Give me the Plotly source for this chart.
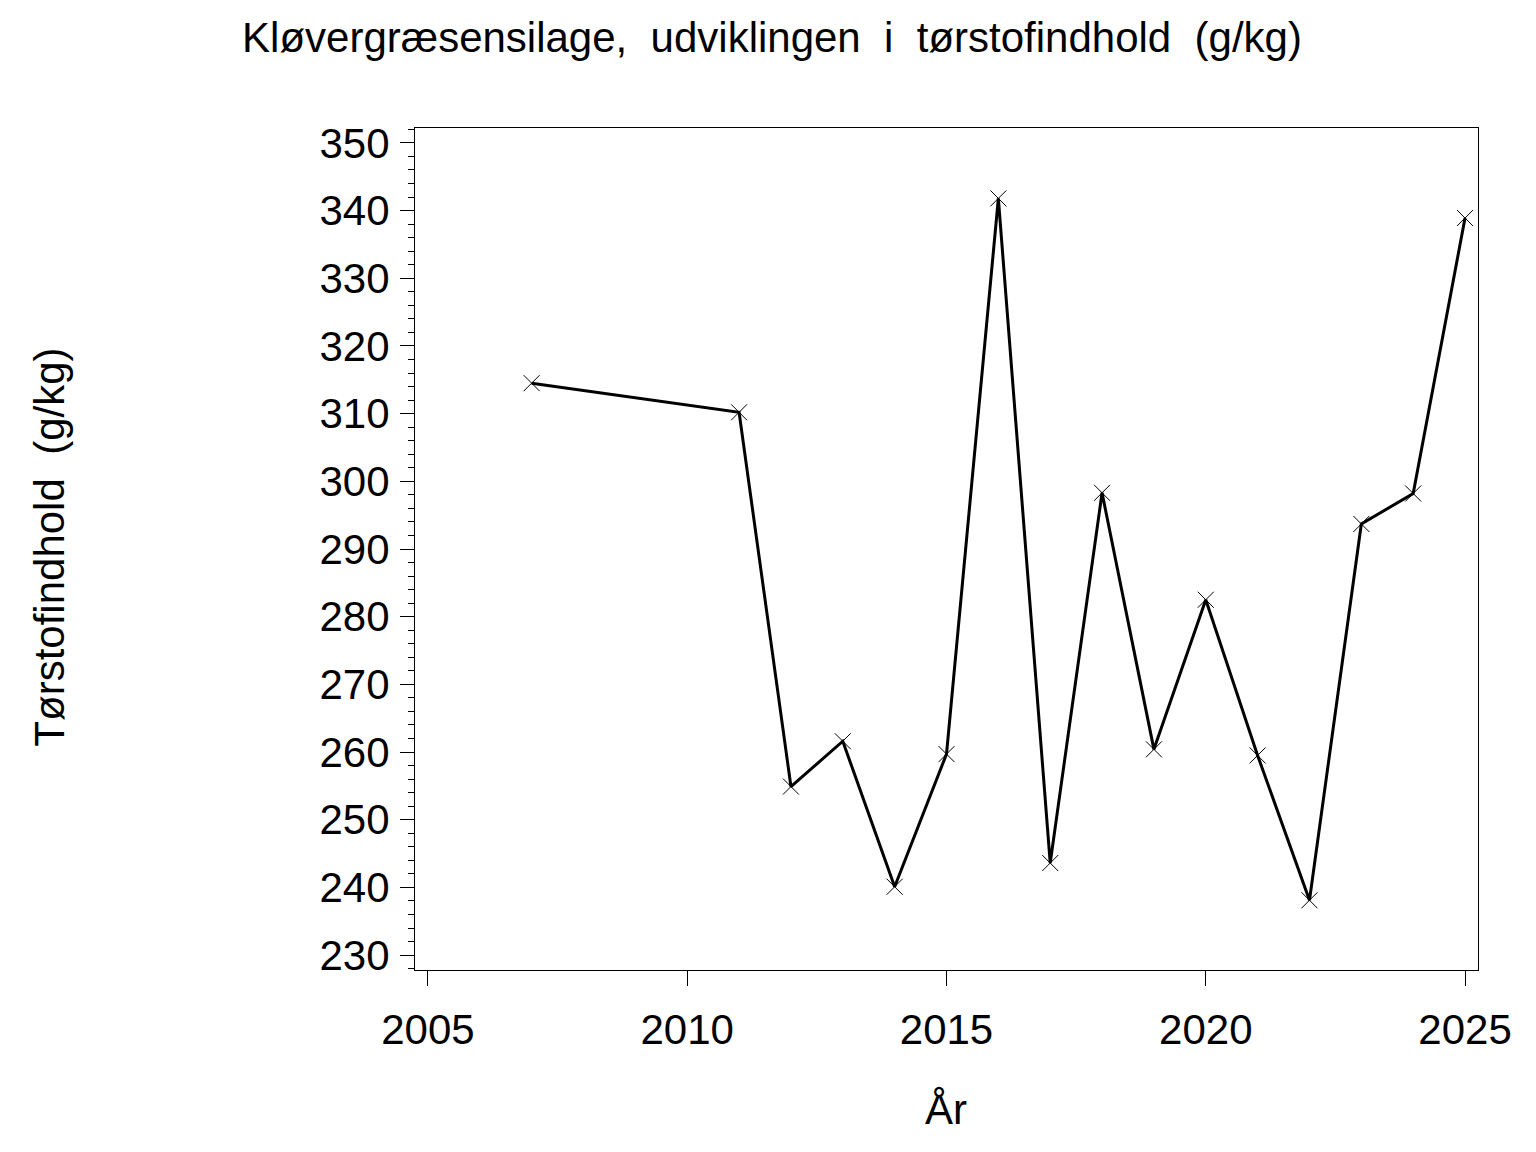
import plotly.graph_objects as go

# --- dados ---
aar = [2007, 2011, 2012, 2013, 2014, 2015, 2016, 2017, 2018, 2019, 2020, 2021, 2022, 2023, 2024, 2025]
ts_indhold = [314.5, 310.2, 254.9, 261.6, 240.1, 259.7, 341.8, 243.6, 298.3, 260.4, 282.5, 259.5, 238.1, 293.7, 298.2, 338.9]

titel = "Kløvergræsensilage,\u00a0\u00a0udviklingen\u00a0\u00a0i\u00a0\u00a0tørstofindhold\u00a0\u00a0(g/kg)"
y_titel = "Tørstofindhold\u00a0\u00a0(g/kg)"
x_titel = "År"

FONT = "Liberation Sans, Arial, sans-serif"

fig = go.Figure()

fig.add_trace(go.Scatter(
    x=aar, y=ts_indhold, mode="lines+markers",
    line=dict(color="black", width=3),
    marker=dict(symbol="x-thin-open", size=16, color="black",
                line=dict(color="black", width=1)),
    showlegend=False,
))

# a página tem 8px de margem no body, por isso 1528x1144
fig.update_layout(
    width=1528, height=1144,
    paper_bgcolor="white", plot_bgcolor="white",
    margin=dict(l=407, r=58, t=120, b=182),
    font=dict(family=FONT, size=42, color="black"),
    title=dict(text=titel, x=0.5, xanchor="center", y=0.974, yanchor="middle",
               font=dict(family=FONT, size=42, color="black")),
    annotations=[
        dict(text=y_titel, xref="paper", yref="paper", x=-0.344, y=0.502,
             textangle=-90, showarrow=False, xanchor="center", yanchor="middle",
             font=dict(family=FONT, size=42, color="black")),
        dict(text=x_titel, xref="paper", yref="paper", x=0.4995, y=-0.166,
             showarrow=False, xanchor="center", yanchor="middle",
             font=dict(family=FONT, size=42, color="black")),
    ],
)

fig.update_xaxes(
    range=[2004.75, 2025.25], tickmode="linear", tick0=2005, dtick=5,
    ticks="outside", ticklen=15, tickwidth=1, tickcolor="black",
    showline=True, linecolor="black", linewidth=1, mirror=True,
    showgrid=False, zeroline=False, ticklabelstandoff=8,
    tickfont=dict(family=FONT, size=42, color="black"),
)
fig.update_yaxes(
    range=[227.8, 352.2], tickmode="linear", tick0=230, dtick=10,
    ticks="outside", ticklen=14, tickwidth=1, tickcolor="black",
    minor=dict(dtick=2, tick0=230, ticks="outside", ticklen=6, tickwidth=1, tickcolor="black", showgrid=False),
    showline=True, linecolor="black", linewidth=1, mirror=True,
    showgrid=False, zeroline=False, ticklabelstandoff=2,
    tickfont=dict(family=FONT, size=42, color="black"),
)

fig.write_html("out.html")
